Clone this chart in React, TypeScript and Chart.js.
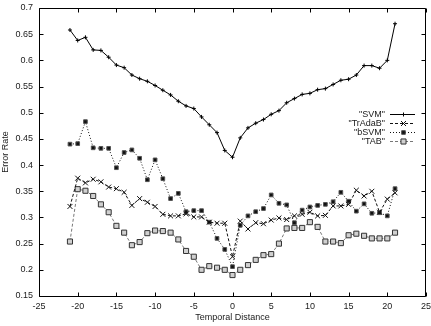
import React, { useEffect, useRef } from 'react';
import { Chart, registerables } from 'chart.js';

Chart.register(...registerables);

// Temporal distance between training and test periods
const distances = [
  -21, -20, -19, -18, -17, -16, -15, -14, -13, -12, -11, -10, -9, -8, -7, -6, -5, -4, -3, -2, -1,
  0, 1, 2, 3, 4, 5, 6, 7, 8, 9, 10, 11, 12, 13, 14, 15, 16, 17, 18, 19, 20, 21,
];

// Error rates of each method
const svmRate = [
  0.658, 0.638, 0.644, 0.620, 0.619, 0.606, 0.591, 0.586, 0.572, 0.565, 0.560, 0.552, 0.543, 0.534,
  0.522, 0.513, 0.508, 0.492, 0.477, 0.462, 0.428, 0.415, 0.452, 0.471, 0.480, 0.487, 0.497, 0.504,
  0.519, 0.527, 0.535, 0.537, 0.544, 0.546, 0.554, 0.562, 0.564, 0.572, 0.590, 0.590, 0.585, 0.600,
  0.670,
];
const trAdaBRate = [
  0.321, 0.375, 0.366, 0.373, 0.368, 0.358, 0.355, 0.348, 0.323, 0.336, 0.329, 0.321, 0.306, 0.303,
  0.303, 0.307, 0.301, 0.301, 0.291, 0.289, 0.289, 0.225, 0.293, 0.278, 0.290, 0.288, 0.295, 0.299,
  0.296, 0.303, 0.306, 0.310, 0.303, 0.304, 0.322, 0.322, 0.325, 0.352, 0.341, 0.350, 0.310, 0.335,
  0.347,
];
const bSvmRate = [
  0.440, 0.441, 0.483, 0.433, 0.432, 0.432, 0.395, 0.424, 0.429, 0.413, 0.372, 0.410, 0.374, 0.336,
  0.346, 0.311, 0.313, 0.313, 0.291, 0.260, 0.239, 0.206, 0.285, 0.303, 0.311, 0.317, 0.343, 0.327,
  0.324, 0.290, 0.314, 0.320, 0.323, 0.325, 0.330, 0.348, 0.331, 0.312, 0.326, 0.308, 0.309, 0.303,
  0.355,
];
const tabRate = [
  0.254, 0.354, 0.351, 0.341, 0.325, 0.310, 0.284, 0.271, 0.247, 0.253, 0.270, 0.275, 0.274, 0.271,
  0.258, 0.236, 0.225, 0.200, 0.207, 0.204, 0.200, 0.190, 0.200, 0.209, 0.219, 0.228, 0.230, 0.250,
  0.279, 0.280, 0.280, 0.291, 0.282, 0.254, 0.254, 0.251, 0.266, 0.269, 0.265, 0.260, 0.260, 0.260,
  0.271,
];

const xTickLabels = ['-25', '-20', '-15', '-10', '-5', '0', '5', '10', '15', '20', '25'];
const yTickLabels = [
  '0.15', '0.2', '0.25', '0.3', '0.35', '0.4', '0.45', '0.5', '0.55', '0.6', '0.65', '0.7',
];
const seriesNames = ['"SVM"', '"TrAdaB"', '"bSVM"', '"TAB"'];

const FONT = '"Liberation Sans", Arial, Helvetica, sans-serif';
const TEXT_COLOR = '#1a1a1a';

const labelFor = (labels: string[], value: number) =>
  labels.find((l) => Math.abs(parseFloat(l) - value) < 1e-6) ?? '';

// Closed frame with inward tick marks on all four sides
const frameTicks = {
  id: 'frameTicks',
  afterDatasetsDraw(chart: any) {
    const { ctx, chartArea, scales } = chart;
    const L = Math.floor(chartArea.left) + 0.5;
    const R = Math.round(chartArea.right) - 0.5;
    const T = Math.floor(chartArea.top) + 0.5;
    const B = Math.round(chartArea.bottom) + 0.5;
    const len = 4;
    ctx.save();
    ctx.strokeStyle = '#000';
    ctx.lineWidth = 1;
    ctx.beginPath();
    ctx.rect(L, T, R - L, B - T);
    scales.x.ticks.forEach((t: any) => {
      const px = Math.round(scales.x.getPixelForValue(t.value)) + 0.5;
      ctx.moveTo(px, B);
      ctx.lineTo(px, B - len);
      ctx.moveTo(px, T);
      ctx.lineTo(px, T + len);
    });
    scales.y.ticks.forEach((t: any) => {
      const py = Math.round(scales.y.getPixelForValue(t.value)) + 0.5;
      ctx.moveTo(L, py);
      ctx.lineTo(L + len, py);
      ctx.moveTo(R, py);
      ctx.lineTo(R - len, py);
    });
    ctx.stroke();
    ctx.restore();
  },
};

function drawMarker(ctx: CanvasRenderingContext2D, ds: any, x: number, y: number) {
  const r = ds.pointRadius;
  ctx.save();
  ctx.setLineDash([]);
  ctx.lineWidth = ds.pointBorderWidth;
  ctx.strokeStyle = ds.pointBorderColor;
  ctx.fillStyle = ds.pointBackgroundColor;
  ctx.beginPath();
  if (ds.pointStyle === 'cross') {
    ctx.moveTo(x - r, y);
    ctx.lineTo(x + r, y);
    ctx.moveTo(x, y - r);
    ctx.lineTo(x, y + r);
    ctx.stroke();
  } else if (ds.pointStyle === 'crossRot') {
    const d = r * Math.SQRT1_2;
    ctx.moveTo(x - d, y - d);
    ctx.lineTo(x + d, y + d);
    ctx.moveTo(x - d, y + d);
    ctx.lineTo(x + d, y - d);
    ctx.stroke();
  } else {
    const s = r * Math.SQRT1_2;
    ctx.rect(x - s, y - s, 2 * s, 2 * s);
    ctx.fill();
    ctx.stroke();
  }
  ctx.restore();
}

// Key in the upper right of the plot: right-aligned names followed by line samples
const keyBox = {
  id: 'keyBox',
  afterDraw(chart: any) {
    const { ctx, chartArea } = chart;
    const textRight = chartArea.right - 41;
    const sampleStart = chartArea.right - 36;
    const sampleEnd = chartArea.right - 11;
    const firstRow = chartArea.top + 106;
    const rowGap = 9;
    ctx.save();
    ctx.font = `9px ${FONT}`;
    ctx.fillStyle = TEXT_COLOR;
    ctx.textAlign = 'right';
    ctx.textBaseline = 'middle';
    chart.data.datasets.forEach((ds: any, i: number) => {
      const y = Math.round(firstRow + i * rowGap) + 0.5;
      ctx.fillText(ds.label, textRight, y);
      ctx.save();
      ctx.strokeStyle = ds.borderColor;
      ctx.lineWidth = ds.borderWidth;
      ctx.setLineDash(ds.borderDash || []);
      ctx.beginPath();
      ctx.moveTo(sampleStart, y);
      ctx.lineTo(sampleEnd, y);
      ctx.stroke();
      ctx.restore();
      drawMarker(ctx, ds, Math.round((sampleStart + sampleEnd) / 2) + 0.5, y);
    });
    ctx.restore();
  },
};

const toPoints = (values: number[]) => distances.map((d, i) => ({ x: d, y: values[i] }));

export default function App() {
  const canvasRef = useRef<HTMLCanvasElement | null>(null);

  useEffect(() => {
    const canvas = canvasRef.current;
    if (!canvas) return;
    const chart = new Chart(canvas, {
      type: 'line',
      data: {
        datasets: [
          {
            label: seriesNames[0],
            data: toPoints(svmRate),
            borderColor: '#000',
            borderWidth: 1,
            pointStyle: 'cross',
            pointRadius: 2,
            pointBorderWidth: 1,
            pointBorderColor: '#000',
            pointBackgroundColor: '#000',
          },
          {
            label: seriesNames[1],
            data: toPoints(trAdaBRate),
            borderColor: '#111',
            borderWidth: 1,
            borderDash: [3, 2],
            pointStyle: 'crossRot',
            pointRadius: 3.5,
            pointBorderWidth: 1,
            pointBorderColor: '#111',
            pointBackgroundColor: '#111',
          },
          {
            label: seriesNames[2],
            data: toPoints(bSvmRate),
            borderColor: '#111',
            borderWidth: 1,
            borderDash: [1, 2],
            pointStyle: 'rect',
            pointRadius: 2.6,
            pointBorderWidth: 1,
            pointBorderColor: '#555',
            pointBackgroundColor: '#111',
          },
          {
            label: seriesNames[3],
            data: toPoints(tabRate),
            borderColor: '#777',
            borderWidth: 1,
            borderDash: [3, 2],
            pointStyle: 'rect',
            pointRadius: 3.6,
            pointBorderWidth: 1,
            pointBorderColor: '#333',
            pointBackgroundColor: '#d0d0d0',
          },
        ],
      },
      options: {
        animation: false,
        responsive: false,
        devicePixelRatio: 1,
        layout: { padding: { left: 0, top: 8, right: 3, bottom: 0 } },
        plugins: {
          legend: { display: false },
          tooltip: { enabled: false },
        },
        elements: { line: { tension: 0 } },
        scales: {
          x: {
            type: 'linear',
            min: -25,
            max: 25,
            grid: { display: false, drawTicks: false },
            border: { display: false },
            ticks: {
              stepSize: 5,
              padding: 5,
              maxRotation: 0,
              autoSkip: false,
              color: TEXT_COLOR,
              font: { family: FONT, size: 9 },
              callback: (v: any) => labelFor(xTickLabels, Number(v)),
            },
            title: {
              display: true,
              text: 'Temporal Distance',
              color: TEXT_COLOR,
              font: { family: FONT, size: 9 },
              padding: { top: 0, bottom: 3 },
            },
            afterFit: (scale: any) => {
              scale.height = 30;
              scale.paddingLeft = 0;
              scale.paddingRight = 0;
            },
          },
          y: {
            type: 'linear',
            min: 0.15,
            max: 0.7,
            grid: { display: false, drawTicks: false },
            border: { display: false },
            ticks: {
              stepSize: 0.05,
              padding: 6,
              autoSkip: false,
              color: TEXT_COLOR,
              font: { family: FONT, size: 9 },
              callback: (v: any) => labelFor(yTickLabels, Number(v)),
            },
            title: {
              display: true,
              text: 'Error Rate',
              color: TEXT_COLOR,
              font: { family: FONT, size: 9 },
              padding: 0,
            },
            afterFit: (scale: any) => {
              scale.width = 39;
              scale.paddingTop = 0;
              scale.paddingBottom = 0;
            },
          },
        },
      },
      plugins: [frameTicks, keyBox],
    });
    return () => chart.destroy();
  }, []);

  return (
    <div style={{ position: 'absolute', left: 0, top: 0, width: 431, height: 326, background: '#fff' }}>
      <canvas ref={canvasRef} width={431} height={326} style={{ display: 'block' }} />
    </div>
  );
}
